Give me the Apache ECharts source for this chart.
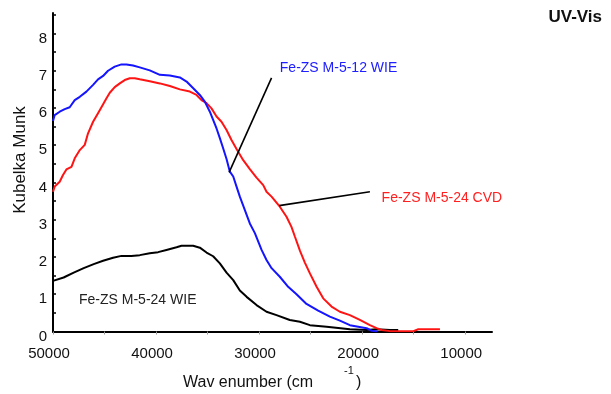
<!DOCTYPE html>
<html>
<head>
<meta charset="utf-8">
<script src="https://cdn.jsdelivr.net/npm/echarts@6/dist/echarts.min.js"></script>
<style>html,body{margin:0;padding:0;background:#fff;}#c{width:611px;height:394px;}</style>
</head>
<body>
<div id="c"></div>
<script>
// ---- data (wavenumber cm^-1, Kubelka-Munk) ----
var blueX = [50000, 49835, 49350, 48860, 48380, 47890, 47400, 46760, 46110, 45630, 45140, 44660, 44010, 43360, 42870, 42230, 41580, 40610, 39630, 38660, 37690, 37040, 36390, 35750, 35270, 34780, 34460, 34130, 33810, 33490, 33160, 32840, 32510, 32190, 31870, 31380, 30900, 30410, 29760, 29280, 28790, 27990, 27180, 26370, 25400, 24270, 23130, 22160, 21190, 20380, 19570, 19080, 18500];
var blueY = [5.65, 5.81, 5.90, 5.97, 6.02, 6.21, 6.30, 6.44, 6.62, 6.77, 6.86, 7.00, 7.11, 7.17, 7.17, 7.14, 7.09, 7.01, 6.89, 6.87, 6.82, 6.71, 6.53, 6.35, 6.17, 5.90, 5.68, 5.45, 5.19, 4.92, 4.63, 4.29, 4.16, 3.89, 3.62, 3.26, 2.90, 2.64, 2.19, 1.92, 1.70, 1.47, 1.20, 1.00, 0.74, 0.56, 0.40, 0.29, 0.17, 0.13, 0.09, 0.02, 0.0];

var redX = [50000, 49835, 49350, 49030, 48700, 48210, 47890, 47400, 46920, 46600, 46110, 45630, 45300, 44810, 44490, 44010, 43520, 43040, 42550, 42070, 41580, 40610, 39630, 38660, 37690, 36720, 36070, 35590, 35100, 34620, 34130, 33650, 33160, 32680, 32190, 31540, 30900, 30250, 29600, 29280, 28790, 27990, 27340, 26860, 26530, 26040, 25560, 25070, 24420, 23780, 22970, 22160, 21190, 20220, 19250, 18600, 18110, 17300, 16330, 15030, 14550, 13740, 12450];
var redY = [3.75, 3.89, 4.02, 4.20, 4.35, 4.42, 4.65, 4.87, 5.01, 5.32, 5.63, 5.86, 6.02, 6.26, 6.41, 6.56, 6.66, 6.75, 6.80, 6.80, 6.77, 6.72, 6.66, 6.59, 6.50, 6.44, 6.35, 6.21, 6.13, 5.99, 5.77, 5.63, 5.41, 5.14, 4.90, 4.60, 4.36, 4.13, 3.93, 3.75, 3.62, 3.35, 3.08, 2.81, 2.55, 2.17, 1.85, 1.56, 1.20, 0.89, 0.67, 0.53, 0.44, 0.31, 0.17, 0.09, 0.04, 0.01, 0.01, 0.01, 0.06, 0.06, 0.06];

var blackX = [50000, 48970, 47990, 47020, 46050, 45140, 44170, 43360, 42390, 41580, 40610, 39800, 38990, 38010, 37530, 36400, 35750, 35100, 34460, 33810, 33160, 32510, 31870, 31210, 30250, 29280, 28310, 27020, 26040, 25070, 23450, 21190, 19570, 18600, 17300, 16500];
var blackY = [1.36, 1.45, 1.58, 1.70, 1.81, 1.90, 1.98, 2.03, 2.03, 2.05, 2.10, 2.13, 2.19, 2.26, 2.30, 2.30, 2.25, 2.12, 2.02, 1.83, 1.58, 1.38, 1.10, 0.93, 0.71, 0.53, 0.44, 0.31, 0.26, 0.17, 0.13, 0.06, 0.04, 0.06, 0.04, 0.04];

var seriesNames = ['Fe-ZS M-5-12 WIE', 'Fe-ZS M-5-24 CVD', 'Fe-ZS M-5-24 WIE'];
var xTickLabels = [50000, 40000, 30000, 20000, 10000];
var xTicks = [50000, 45000, 40000, 35000, 30000, 25000, 20000, 15000, 10000];
var yTickLabels = [0, 1, 2, 3, 4, 5, 6, 7, 8];
var yTicks = [0, 0.5, 1, 1.5, 2, 2.5, 3, 3.5, 4, 4.5, 5, 5.5, 6, 6.5, 7, 7.5, 8, 8.5];

// annotation anchors in data coordinates
var blueLeader = [[28793, 6.81], [32910, 4.27]];
var redLeader = [[19248, 3.75], [28055, 3.38]];
var blueLabelAt = [27990, 7.07];
var redLabelAt = [18113, 3.59];
var blackLabelAt = [47475, 0.85];

function zip(xs, ys) { return xs.map(function (x, i) { return [x, ys[i]]; }); }

var FONT = 'Liberation Sans, Arial, sans-serif';
var chart = echarts.init(document.getElementById('c'), null, { renderer: 'canvas' });

function leader(pts) {
  return {
    symbol: 'none', silent: true, animation: false,
    label: { show: false },
    lineStyle: { color: '#000', width: 1.6, type: 'solid' },
    data: [[{ coord: pts[0] }, { coord: pts[1] }]]
  };
}

var option = {
  animation: false,
  backgroundColor: '#fff',
  title: {
    text: 'UV-Vis', right: 4, top: 4,
    textStyle: { fontFamily: FONT, fontSize: 17, fontWeight: 'bold', color: '#111' }
  },
  grid: { left: 53, right: 119, top: 13, bottom: 62.5, containLabel: false },
  xAxis: {
    type: 'value', min: 7400, max: 50000, inverse: true,
    axisLine: { lineStyle: { color: '#000', width: 2 } },
    axisTick: { show: true, customValues: xTicks, length: 3, lineStyle: { color: '#999', width: 1 } },
    axisLabel: { customValues: xTickLabels, margin: 15, padding: [0, 8, 0, 0], color: '#111', fontFamily: FONT, fontSize: 15,
      formatter: function (v) { return String(v); } },
    splitLine: { show: false }
  },
  yAxis: {
    type: 'value', min: 0, max: 8.55,
    axisLine: { show: true, lineStyle: { color: '#000', width: 2 } },
    axisTick: { show: true, inside: true, customValues: yTicks, length: 3, lineStyle: { color: '#000', width: 1.5 } },
    axisLabel: { customValues: yTickLabels, margin: 6, verticalAlign: 'top', lineHeight: 10, color: '#111', fontFamily: FONT, fontSize: 15,
      formatter: function (v) { return String(v); } },
    splitLine: { show: false }
  },
  series: [
    { name: seriesNames[0], type: 'line', data: zip(blueX, blueY), showSymbol: false, symbol: 'none',
      lineStyle: { color: '#1414ff', width: 2 }, z: 3, markLine: leader(blueLeader) },
    { name: seriesNames[1], type: 'line', data: zip(redX, redY), showSymbol: false, symbol: 'none',
      lineStyle: { color: '#ff1414', width: 2 }, z: 2, markLine: leader(redLeader) },
    { name: seriesNames[2], type: 'line', data: zip(blackX, blackY), showSymbol: false, symbol: 'none',
      lineStyle: { color: '#000', width: 2 }, z: 1 }
  ]
};
chart.setOption(option);

var pb = chart.convertToPixel({ gridIndex: 0 }, blueLabelAt);
var pr = chart.convertToPixel({ gridIndex: 0 }, redLabelAt);
var pk = chart.convertToPixel({ gridIndex: 0 }, blackLabelAt);

function txt(p, s, color) {
  return { type: 'text', x: p[0], y: p[1], silent: true,
    style: { text: s, fill: color, font: '14px ' + FONT, textAlign: 'left', textVerticalAlign: 'middle' } };
}

chart.setOption({
  graphic: [
    txt(pb, seriesNames[0], '#2020ff'),
    txt(pr, seriesNames[1], '#ff2020'),
    txt(pk, seriesNames[2], '#222'),
    { type: 'text', x: 20, y: 160, rotation: Math.PI / 2, silent: true,
      style: { text: 'Kubelka Munk', fill: '#111', font: '17px ' + FONT, textAlign: 'center', textVerticalAlign: 'middle' } },
    { type: 'text', x: 183, y: 383, silent: true,
      style: { text: 'Wav enumber (cm', fill: '#111', font: '16px ' + FONT, textAlign: 'left', textVerticalAlign: 'middle' } },
    { type: 'text', x: 344, y: 371, silent: true,
      style: { text: '-1', fill: '#111', font: '11px ' + FONT, textAlign: 'left', textVerticalAlign: 'middle' } },
    { type: 'text', x: 356, y: 383, silent: true,
      style: { text: ')', fill: '#111', font: '16px ' + FONT, textAlign: 'left', textVerticalAlign: 'middle' } }
  ]
});
</script>
</body>
</html>
